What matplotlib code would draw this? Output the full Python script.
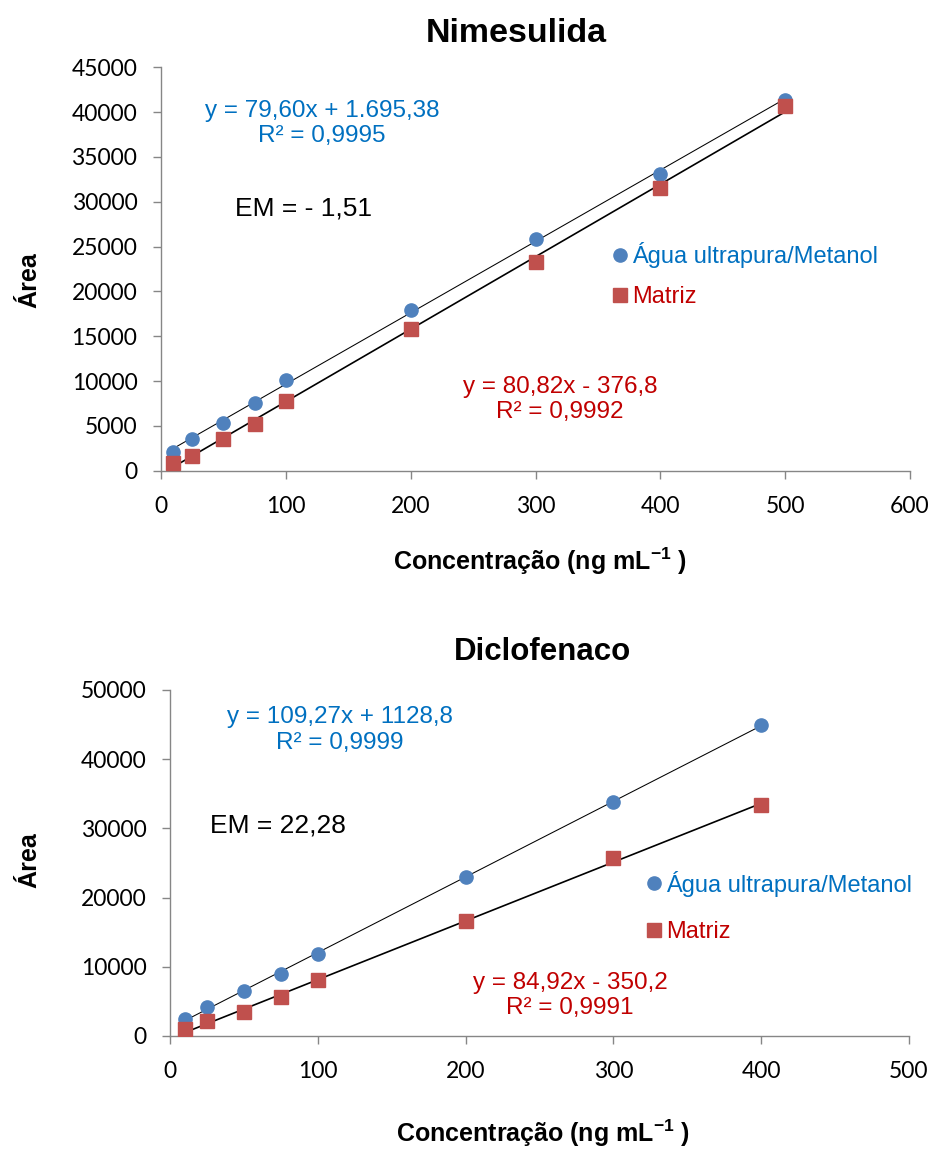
import numpy as np
import matplotlib
matplotlib.use("Agg")
import matplotlib.pyplot as plt
from matplotlib.lines import Line2D

plt.rcParams['font.family'] = ['Liberation Sans', 'DejaVu Sans']
plt.rcParams['mathtext.fontset'] = 'custom'
plt.rcParams['mathtext.rm'] = 'Liberation Sans'
plt.rcParams['mathtext.bf'] = 'Liberation Sans:bold'

# Concentrations (ng/mL)
conc_nim = [10, 25, 50, 75, 100, 200, 300, 400, 500]
conc_dic = [10, 25, 50, 75, 100, 200, 300, 400]

# Nimesulida peak areas
nim_solvente = [2100, 3500, 5300, 7500, 10100, 17900, 25850, 33150, 41400]
nim_matriz = [860, 1650, 3550, 5250, 7750, 15850, 23250, 31500, 40650]
# Diclofenaco peak areas
dic_solvente = [2450, 4200, 6550, 9000, 11900, 22950, 33850, 44900]
dic_matriz = [950, 2150, 3400, 5600, 8050, 16650, 25700, 33350]

# Regression coefficients (slope, intercept)
fit_nim_solv = (79.60, 1695.38)
fit_nim_mat = (80.82, -376.8)
fit_dic_solv = (109.27, 1128.8)
fit_dic_mat = (84.92, -350.2)

eq_nim_solv = "y = 79,60x + 1.695,38\nR² = 0,9995"
eq_nim_mat = "y = 80,82x - 376,8\nR² = 0,9992"
eq_dic_solv = "y = 109,27x + 1128,8\nR² = 0,9999"
eq_dic_mat = "y = 84,92x - 350,2\nR² = 0,9991"

labels = ["Água ultrapura/Metanol", "Matriz"]

BLUE_MK = "#4F81BD"
RED_MK = "#C0504D"
BLUE_TX = "#0070C0"
RED_TX = "#C00000"
SPINE = "#868686"
TICK_FONT = ["Lato", "DejaVu Sans"]

W, H = 931, 1151
fig = plt.figure(figsize=(W / 100, H / 100), dpi=100)


def px_axes(l, r, t, b):
    return fig.add_axes([l / W, 1 - b / H, (r - l) / W, (b - t) / H])


def style(ax):
    for s in ("top", "right"):
        ax.spines[s].set_visible(False)
    for s in ("left", "bottom"):
        ax.spines[s].set_color(SPINE)
        ax.spines[s].set_linewidth(1.0)
    ax.tick_params(axis="both", colors=SPINE, labelcolor="black",
                   length=6, width=1.0, direction="out")
    ax.tick_params(axis="y", pad=11)
    ax.tick_params(axis="x", pad=12)
    for lab in ax.get_xticklabels() + ax.get_yticklabels():
        lab.set_fontfamily(TICK_FONT)
        lab.set_fontsize(16.5)


def panel(ax, x, ys, ym, fs, fm):
    xs = np.array([min(x), max(x)], dtype=float)
    ax.plot(xs, fs[0] * xs + fs[1], color="black", lw=0.75, zorder=2)
    ax.plot(xs, fm[0] * xs + fm[1], color="black", lw=1.2, zorder=2)
    ax.plot(x, ys, "o", color=BLUE_MK, ms=9.5, mec=BLUE_MK, zorder=3)
    ax.plot(x, ym, "s", color=RED_MK, ms=10, mec=RED_MK, zorder=3)


def legend(ax, x0, ymid, spacing):
    handles = [
        Line2D([], [], ls="none", marker="o", color=BLUE_MK, ms=9.5),
        Line2D([], [], ls="none", marker="s", color=RED_MK, ms=10),
    ]
    ax.legend(handles, labels, loc="center left", bbox_to_anchor=(x0, ymid),
              frameon=False, fontsize=17, handlelength=0.6, handletextpad=0.2,
              borderpad=0, borderaxespad=0, labelspacing=spacing,
              labelcolor=[BLUE_TX, RED_TX])


# ---- Nimesulida ----
ax1 = px_axes(161, 910, 67.3, 470.7)
panel(ax1, conc_nim, nim_solvente, nim_matriz, fit_nim_solv, fit_nim_mat)
ax1.set_xlim(0, 600)
ax1.set_ylim(0, 45000)
ax1.set_xticks(np.arange(0, 601, 100))
ax1.set_yticks(np.arange(0, 45001, 5000))
style(ax1)
ax1.text(129, 38750, eq_nim_solv, color=BLUE_TX, fontsize=17.5, ha="center",
         va="center", linespacing=1.18)
ax1.text(319.6, 7910, eq_nim_mat, color=RED_TX, fontsize=17.5, ha="center",
         va="center", linespacing=1.18)
ax1.text(59.3, 29300, "EM = - 1,51", color="black", fontsize=19, ha="left",
         va="center")
legend(ax1, 0.6035, 0.485, 0.75)

# ---- Diclofenaco ----
ax2 = px_axes(170, 909, 690, 1036)
panel(ax2, conc_dic, dic_solvente, dic_matriz, fit_dic_solv, fit_dic_mat)
ax2.set_xlim(0, 500)
ax2.set_ylim(0, 50000)
ax2.set_xticks(np.arange(0, 501, 100))
ax2.set_yticks(np.arange(0, 50001, 10000))
style(ax2)
ax2.text(115, 44220, eq_dic_solv, color=BLUE_TX, fontsize=17.5, ha="center",
         va="center", linespacing=1.18)
ax2.text(270.6, 5810, eq_dic_mat, color=RED_TX, fontsize=17.5, ha="center",
         va="center", linespacing=1.18)
ax2.text(27.1, 30490, "EM = 22,28", color="black", fontsize=19, ha="left",
         va="center")
legend(ax2, 0.6455, 0.373, 1.05)

# Titles and axis labels
xlabel = r"Concentração (ng mL$^{\mathbf{-1}}$ )"
fig.text(516 / W, 1 - 41.7 / H, "Nimesulida", fontsize=24.5,
         fontweight="bold", ha="center", va="baseline")
fig.text(543 / W, 1 - 660 / H, "Diclofenaco", fontsize=22.5,
         fontweight="bold", ha="center", va="baseline")
fig.text(540 / W, 1 - 570 / H, xlabel, fontsize=18, fontweight="bold",
         ha="center", va="baseline")
fig.text(543 / W, 1 - 1141.7 / H, xlabel, fontsize=18, fontweight="bold",
         ha="center", va="baseline")
fig.text(29 / W, 1 - 280 / H, "Área", fontsize=18, fontweight="bold",
         ha="center", va="center", rotation=90)
fig.text(29 / W, 1 - 860 / H, "Área", fontsize=18, fontweight="bold",
         ha="center", va="center", rotation=90)

fig.savefig("out.png", dpi=100, facecolor="white")
